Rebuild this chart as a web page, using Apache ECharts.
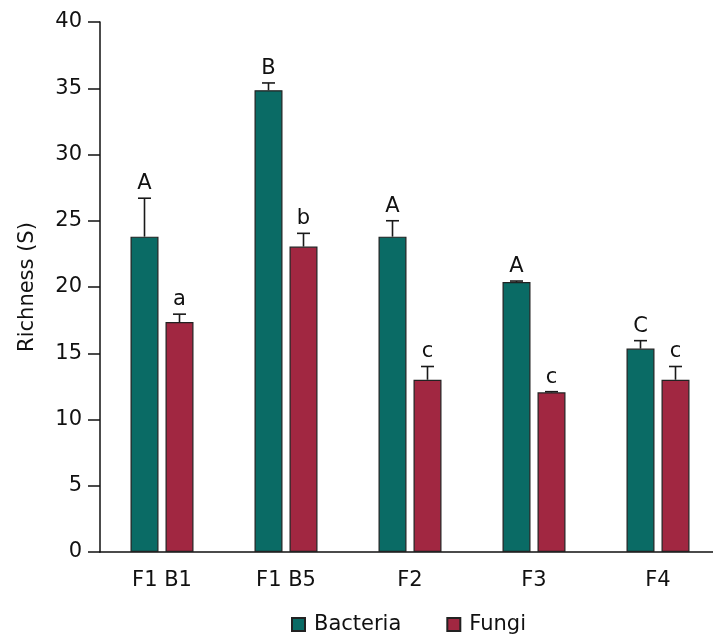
<!DOCTYPE html>
<html>
<head>
<meta charset="utf-8">
<script src="https://cdn.jsdelivr.net/npm/echarts@6/dist/echarts.min.js"></script>
<style>html,body{margin:0;padding:0;background:#fff;overflow:hidden}#c{width:720px;height:639px}</style>
</head>
<body>
<div id="c"></div>
<script>
const categories = ['F1 B1', 'F1 B5', 'F2', 'F3', 'F4'];
const bacteria = [23.8, 34.85, 23.8, 20.38, 15.35];
const bacteriaErrTop = [26.7, 35.4, 25.0, 20.45, 15.95];
const bacteriaLetters = ['A', 'B', 'A', 'A', 'C'];
const fungi = [17.35, 23.05, 13.0, 12.05, 13.0];
const fungiErrTop = [17.95, 24.05, 14.0, 12.1, 14.0];
const fungiLetters = ['a', 'b', 'c', 'c', 'c'];
const yTicks = [0, 5, 10, 15, 20, 25, 30, 35, 40];

const FONT = 'DejaVu Sans';
const FS = 21;
const BAR_W = 28, OFFSET = 17.5;
const chart = echarts.init(document.getElementById('c'));

function errSeries(name, vals, tops, letters, dir) {
  const data = categories.map((c, i) => [i, vals[i], tops[i]]);
  return {
    type: 'custom', name: name + '_err', z: 5, silent: true,
    data: data,
    renderItem: function (params, api) {
      const base = api.coord([api.value(0), api.value(1)]);
      const top = api.coord([api.value(0), api.value(2)]);
      const x = base[0] + dir * OFFSET;
      const children = [];
      if (Math.abs(base[1] - top[1]) > 0.5) {
        children.push({ type: 'line', shape: { x1: x, y1: base[1], x2: x, y2: top[1] }, style: { stroke: '#1a1a1a', lineWidth: 1.6 } });
      }
      children.push({ type: 'line', shape: { x1: x - 6.5, y1: top[1], x2: x + 6.5, y2: top[1] }, style: { stroke: '#1a1a1a', lineWidth: 1.6 } });
      children.push({ type: 'text', style: { text: letters[params.dataIndex], x: x, y: top[1] - 4, align: 'center', verticalAlign: 'bottom', font: FS + 'px "' + FONT + '"', fill: '#111' } });
      return { type: 'group', children: children };
    }
  };
}

chart.setOption({
  animation: false,
  textStyle: { fontFamily: FONT },
  grid: { left: 100, top: 22, width: 620, height: 530, containLabel: false },
  legend: {
    data: ['Bacteria', 'Fungi'], left: 286, top: 609, itemWidth: 13, itemHeight: 13, itemGap: 45,
    icon: 'rect',
    textStyle: { fontFamily: FONT, fontSize: FS, color: '#111', padding: [0, 0, 0, 4] }
  },
  xAxis: {
    type: 'category', data: categories,
    axisLine: { lineStyle: { color: '#111', width: 1.5 } },
    axisTick: { show: false },
    axisLabel: { fontFamily: FONT, fontSize: FS, color: '#111', margin: 18 }
  },
  yAxis: {
    type: 'value', min: 0, max: 40, interval: 5,
    name: 'Richness (S)', nameLocation: 'middle', nameGap: 62,
    nameTextStyle: { fontFamily: FONT, fontSize: FS, color: '#111' },
    axisLine: { show: true, lineStyle: { color: '#111', width: 1.5 } },
    axisTick: { show: true, length: 12, lineStyle: { color: '#111', width: 1.5 } },
    axisLabel: { fontFamily: FONT, fontSize: FS, color: '#111', margin: 18, formatter: v => yTicks.includes(v) ? String(v) : '' },
    splitLine: { show: false }
  },
  series: [
    { type: 'bar', name: 'Bacteria', data: bacteria, barWidth: BAR_W, barGap: '25%',
      itemStyle: { color: '#0a6b65', borderColor: '#222', borderWidth: 1.2 } },
    { type: 'bar', name: 'Fungi', data: fungi, barWidth: BAR_W, barGap: '25%',
      itemStyle: { color: '#a12741', borderColor: '#222', borderWidth: 1.2 } },
    errSeries('Bacteria', bacteria, bacteriaErrTop, bacteriaLetters, -1),
    errSeries('Fungi', fungi, fungiErrTop, fungiLetters, 1)
  ]
});
</script>
</body>
</html>
